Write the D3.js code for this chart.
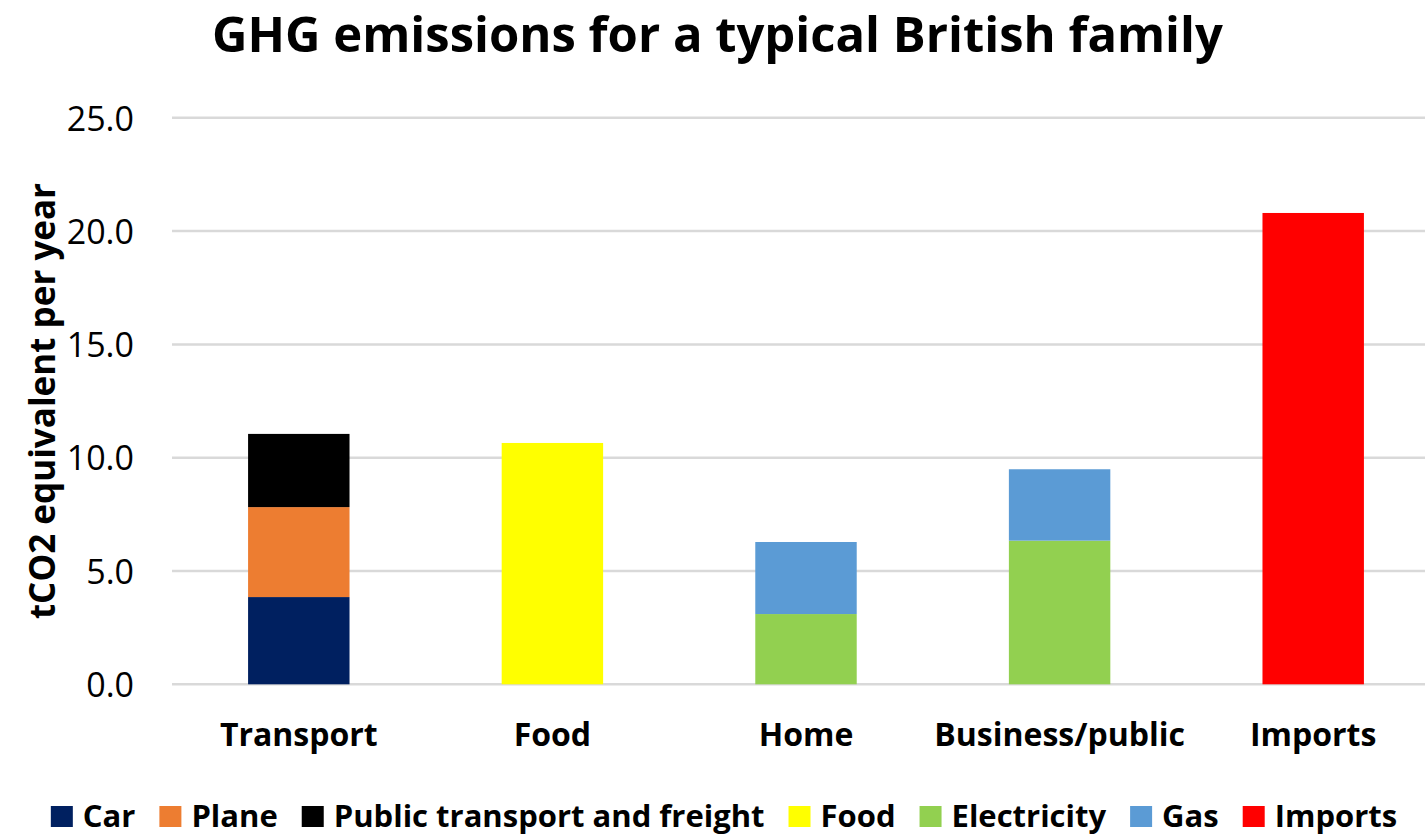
<!DOCTYPE html>
<html>
<head>
<meta charset="utf-8">
<script src="https://cdn.jsdelivr.net/npm/d3@7"></script>
<style>
  html, body { margin: 0; padding: 0; background: #fff; }
  svg { display: block; font-family: "Open Sans", "Noto Sans", sans-serif; }
</style>
</head>
<body>
<svg id="chart" width="1425" height="837"></svg>
<script>
// Household greenhouse-gas footprint, tonnes CO2e per year
const categories = ["Transport", "Food", "Home", "Business/public", "Imports"];
const seriesNames = ["Car", "Plane", "Public transport and freight", "Food", "Electricity", "Gas", "Imports"];

const car           = [3.85, 0, 0, 0, 0];
const plane         = [3.97, 0, 0, 0, 0];
const publicFreight = [3.23, 0, 0, 0, 0];
const food          = [0, 10.65, 0, 0, 0];
const electricity   = [0, 0, 3.10, 6.34, 0];
const gas           = [0, 0, 3.18, 3.15, 0];
const imports       = [0, 0, 0, 0, 20.8];

const yTicks = [0, 5, 10, 15, 20, 25];
const titleText = "GHG emissions for a typical British family";
const yTitle = "tCO2 equivalent per year";

const seriesValues = [car, plane, publicFreight, food, electricity, gas, imports];
const colors = ["#002060", "#ED7D31", "#000000", "#FFFF00", "#92D050", "#5B9BD5", "#FF0000"];

// table for d3.stack: one row per category, one column per series
const table = categories.map((c, i) => {
  const row = { category: c };
  seriesNames.forEach((s, j) => { row[s] = seriesValues[j][i]; });
  return row;
});

const svg = d3.select("#chart");
const plot = { left: 172, right: 1440, top: 117.8, bottom: 684.3 };

const x = d3.scaleBand()
  .domain(categories)
  .range([plot.left, plot.right])
  .paddingInner(0.6)
  .paddingOuter(0.3);

const y = d3.scaleLinear()
  .domain([0, 25])
  .range([plot.bottom, plot.top]);

const color = d3.scaleOrdinal().domain(seriesNames).range(colors);

// gridlines
svg.append("g")
  .selectAll("line")
  .data(yTicks)
  .join("line")
  .attr("x1", plot.left)
  .attr("x2", 1425)
  .attr("y1", d => y(d))
  .attr("y2", d => y(d))
  .attr("stroke", "#D9D9D9")
  .attr("stroke-width", 2.5);

// y tick labels
const yAxis = d3.axisLeft(y).tickValues(yTicks).tickFormat(d3.format(".1f")).tickSize(0).tickPadding(38);
const yg = svg.append("g").attr("transform", `translate(${plot.left},0)`).call(yAxis);
yg.select(".domain").remove();
yg.selectAll("text")
  .attr("font-size", 34)
  .attr("font-family", "'Open Sans', sans-serif")
  .attr("fill", "#000")
  .attr("dy", "0.36em");

// stacked bars
const stacked = d3.stack().keys(seriesNames)(table);
svg.append("g")
  .selectAll("g")
  .data(stacked)
  .join("g")
  .attr("fill", d => color(d.key))
  .selectAll("rect")
  .data(d => d.map(p => ({ p, cat: p.data.category })))
  .join("rect")
  .filter(d => d.p[1] - d.p[0] > 0)
  .attr("x", d => x(d.cat))
  .attr("width", x.bandwidth())
  .attr("y", d => y(d.p[1]))
  .attr("height", d => y(d.p[0]) - y(d.p[1]));

// category labels
const xAxis = d3.axisBottom(x).tickSize(0).tickPadding(0);
const xg = svg.append("g").attr("transform", `translate(0,${plot.bottom})`).call(xAxis);
xg.select(".domain").remove();
xg.selectAll("text")
  .attr("font-size", 32)
  .attr("font-weight", "bold")
  .attr("font-family", "'Open Sans', sans-serif")
  .attr("fill", "#000")
  .attr("dy", 0)
  .attr("y", 62);

// title
svg.append("text")
  .attr("x", 717.5)
  .attr("y", 52)
  .attr("text-anchor", "middle")
  .attr("font-size", 49)
  .attr("font-weight", "bold")
  .text(titleText);

// y axis title
svg.append("text")
  .attr("transform", `translate(55,${(plot.top + plot.bottom) / 2}) rotate(-90)`)
  .attr("text-anchor", "middle")
  .attr("font-size", 35)
  .attr("font-weight", "bold")
  .text(yTitle);

// legend
const legend = svg.append("g");
const items = legend.selectAll("g").data(seriesNames).join("g");
items.append("rect")
  .attr("width", 22).attr("height", 21)
  .attr("y", 806)
  .attr("fill", d => color(d));
items.append("text")
  .attr("x", 32)
  .attr("y", 827)
  .attr("font-size", 31)
  .attr("font-weight", "bold")
  .text(d => d);

let cursor = 0;
const offsets = [];
items.each(function () {
  const w = d3.select(this).select("text").node().getComputedTextLength();
  offsets.push(cursor);
  cursor += 22 + 10 + w + 24;
});
const total = cursor - 24;
const startX = 724 - total / 2;
items.attr("transform", (d, i) => `translate(${startX + offsets[i]},0)`);
</script>
</body>
</html>
